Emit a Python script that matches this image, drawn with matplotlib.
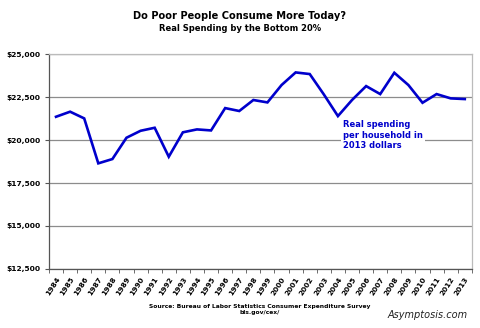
import numpy as np
import matplotlib.pyplot as plt
from matplotlib.ticker import FuncFormatter

years = list(range(1984, 2014))
spending = [21355, 21650, 21260, 18645, 18895, 20135, 20540, 20715, 19030, 20450,
            20620, 20560, 21860, 21690, 22330, 22190, 23200, 23935, 23840, 22655,
            21395, 22330, 23140, 22675, 23915, 23200, 22170, 22675, 22425, 22385]

x = np.arange(len(years))

fig = plt.figure(figsize=(4.8, 3.28), dpi=100)
ax = fig.add_axes([0.102, 0.180, 0.881, 0.655])

ax.plot(x, spending, color='#0000cc', lw=1.9, solid_joinstyle='miter')

ax.set_xlim(-0.5, len(years) - 0.5)
ax.set_ylim(12500, 25000)
ax.set_yticks(np.arange(12500, 25001, 2500))
ax.yaxis.set_major_formatter(FuncFormatter(lambda v, p: '${:,.0f}'.format(v)))
ax.grid(axis='y', color='#8c8c8c', lw=0.9)
ax.set_axisbelow(True)

# category labels centred, tick marks between categories
ax.set_xticks(x)
ax.set_xticklabels([str(y) for y in years], rotation=57, ha='right',
                   rotation_mode='anchor', fontsize=5.3, fontweight='bold')
ax.set_xticks(np.arange(-0.5, len(years), 1), minor=True)
ax.tick_params(axis='x', which='major', length=0, pad=5)
ax.tick_params(axis='x', which='minor', length=3, color='#555555', direction='out')
ax.tick_params(axis='y', length=3, color='#555555', labelsize=5.4, pad=3)
for lab in ax.get_yticklabels():
    lab.set_fontweight('bold')

for side in ['left', 'bottom']:
    ax.spines[side].set_color('#555555')
    ax.spines[side].set_linewidth(0.9)
for side in ['top', 'right']:
    ax.spines[side].set_color('#bbbbbb')
    ax.spines[side].set_linewidth(0.9)

ax.text(20.35, 21150, 'Real spending\nper household in\n2013 dollars', color='#0000cc',
        fontsize=6, fontweight='bold', va='top', ha='left', linespacing=1.2,
        bbox=dict(facecolor='white', edgecolor='none', pad=1.5))

fig.text(0.5, 0.951, 'Do Poor People Consume More Today?', ha='center', va='center',
         fontsize=7.1, fontweight='bold')
fig.text(0.5, 0.914, 'Real Spending by the Bottom 20%', ha='center', va='center',
         fontsize=6, fontweight='bold')
fig.text(0.541, 0.056, 'Source: Bureau of Labor Statistics Consumer Expenditure Survey\nbls.gov/cex/',
         ha='center', va='center', fontsize=4.3, fontweight='bold', linespacing=1.2)
fig.text(0.975, 0.04, 'Asymptosis.com', ha='right', va='center', fontsize=7,
         style='italic', color='#222222')

fig.savefig('out.png', dpi=100)
